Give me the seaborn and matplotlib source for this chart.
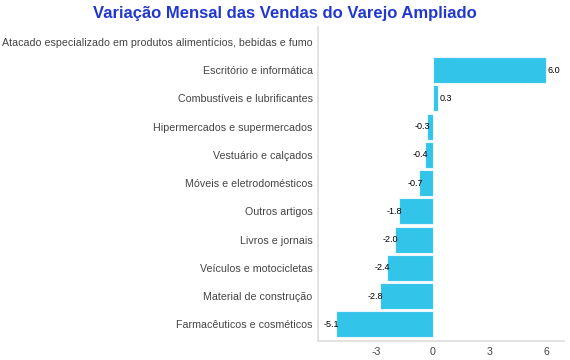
import matplotlib
matplotlib.use("Agg")
import matplotlib.pyplot as plt
import numpy as np
import pandas as pd
import seaborn as sns

categorias = [
    "Atacado especializado em produtos alimentícios, bebidas e fumo",
    "Escritório e informática",
    "Combustíveis e lubrificantes",
    "Hipermercados e supermercados",
    "Vestuário e calçados",
    "Móveis e eletrodomésticos",
    "Outros artigos",
    "Livros e jornais",
    "Veículos e motocicletas",
    "Material de construção",
    "Farmacêuticos e cosméticos",
]
variacao = [np.nan, 6.0, 0.3, -0.3, -0.4, -0.7, -1.8, -2.0, -2.4, -2.8, -5.1]
ticks_x = [-3, 0, 3, 6]

df = pd.DataFrame({"categoria": categorias, "variacao": variacao})

sns.set_theme(style="white")
plt.rcParams["font.family"] = ["Liberation Sans", "DejaVu Sans"]

fig, ax = plt.subplots(figsize=(5.7, 3.6), dpi=100)
fig.subplots_adjust(left=0.558, right=0.99, top=0.925, bottom=0.052)

ax.set_axisbelow(True)
ax.grid(axis="y", color="#ebebeb", linewidth=0.8)

sns.barplot(data=df, x="variacao", y="categoria", orient="h", color="#33c4ea",
            saturation=1, width=0.92, edgecolor="#e6f7fc", linewidth=0.8, ax=ax)

# rótulos de valor na ponta das barras
for i, v in enumerate(variacao):
    if np.isnan(v):
        continue
    if v >= 0:
        ax.text(v + 0.05, i, f"{v:.1f}", va="center", ha="left", fontsize=6.5, color="black")
    else:
        ax.text(v + 0.17, i, f"{v:.1f}", va="center", ha="right", fontsize=6.5, color="black")

ax.set_xlim(-6.05, 6.95)
ax.set_ylim(10.6, -0.53)
ax.set_xticks(ticks_x)
ax.set_xticklabels([str(t) for t in ticks_x])
ax.set_xlabel("")
ax.set_ylabel("")
ax.tick_params(axis="both", labelsize=7.7, labelcolor="#444444", length=0, pad=4)

for s in ["top", "right"]:
    ax.spines[s].set_visible(False)
for s in ["left", "bottom"]:
    ax.spines[s].set_color("#dddddd")
    ax.spines[s].set_linewidth(1.2)

fig.text(0.5, 0.962, "Variação Mensal das Vendas do Varejo Ampliado", ha="center", va="center",
         fontsize=12, fontweight="bold", color="#2238cc")

fig.savefig("out.png", dpi=100)
